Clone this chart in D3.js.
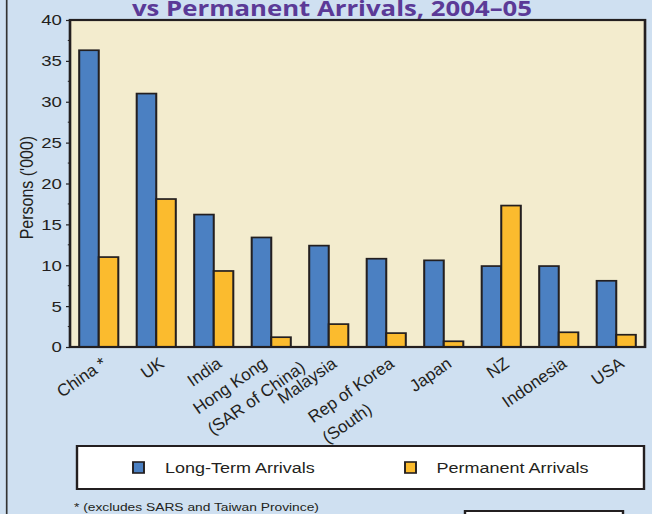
<!DOCTYPE html>
<html>
<head>
<meta charset="utf-8">
<script src="https://cdn.jsdelivr.net/npm/d3@7"></script>
<style>
  body { margin: 0; background: #cfe0f1; }
  svg { display: block; font-family: "Liberation Sans", Arial, sans-serif; }
</style>
</head>
<body>
<div id="chart"></div>
<script>
// Data (thousands of persons)
const categories = ["China *", "UK", "India", "Hong Kong\n(SAR of China)", "Malaysia",
                    "Rep of Korea\n(South)", "Japan", "NZ", "Indonesia", "USA"];
const longTerm  = [36.3, 31.0, 16.2, 13.4, 12.4, 10.8, 10.6, 9.9, 9.9, 8.1];
const permanent = [11.0, 18.1, 9.3, 1.2, 2.8, 1.7, 0.7, 17.3, 1.8, 1.5];
const seriesNames = ["Long-Term Arrivals", "Permanent Arrivals"];
const yTicks = [0, 5, 10, 15, 20, 25, 30, 35, 40];
const yMinorTicks = [2.5, 7.5, 12.5, 17.5, 22.5, 27.5, 32.5, 37.5];
const title = "vs Permanent Arrivals, 2004\u201305";
const yTitle = "Persons ('000)";
const footnote = "* (excludes SARS and Taiwan Province)";

// The reference looks stretched sideways, so most of it is drawn in a
// narrower space and scaled up on x.
const SX = 1.2;
const BG = "#cfe0f1";
const PLOT_BG = "#f3ecce";
const INK = "#231f20";
const colors = ["#4b80c2", "#fbbb2e"];

const plot = { left: 70 / SX, right: 645 / SX, top: 20, bottom: 347 };

const svg = d3.select("#chart")
    .append("svg")
    .attr("width", 652)
    .attr("height", 514);

svg.append("rect")
    .attr("width", 652)
    .attr("height", 514)
    .attr("fill", BG);

const root = svg.append("g")
    .attr("transform", "scale(" + SX + ",1)");

// left frame line of the page
root.append("line")
    .attr("x1", 6.7 / SX).attr("x2", 6.7 / SX)
    .attr("y1", 0).attr("y2", 514)
    .attr("stroke", "#333")
    .attr("stroke-width", 1.4);

// title (only its second line shows)
const titleText = root.append("text")
    .attr("x", 332 / SX)
    .attr("y", 15.5)
    .attr("text-anchor", "middle")
    .attr("font-family", "'Open Sans', 'Noto Sans', sans-serif")
    .attr("font-weight", 700)
    .attr("font-size", 17)
    .attr("fill", "#5b3a97")
    .text(title);
const tw = titleText.node().getComputedTextLength();
titleText.attr("font-size", 17 * (400 / SX) / tw);

root.append("rect")
    .attr("x", plot.left)
    .attr("y", plot.top)
    .attr("width", plot.right - plot.left)
    .attr("height", plot.bottom - plot.top)
    .attr("fill", PLOT_BG);

const x0 = d3.scaleBand()
    .domain(d3.range(categories.length))
    .range([plot.left, plot.right])
    .paddingInner(0.32)
    .paddingOuter(0.16);

const x1 = d3.scaleBand()
    .domain([0, 1])
    .range([0, x0.bandwidth()]);

const y = d3.scaleLinear()
    .domain([0, 40])
    .range([plot.bottom, plot.top]);

const rows = categories.map(function(c, i) {
    return { i: i, values: [longTerm[i], permanent[i]] };
});

const groups = root.selectAll(".grp")
    .data(rows)
    .enter()
    .append("g")
    .attr("class", "grp")
    .attr("transform", function(d) { return "translate(" + x0(d.i) + ",0)"; });

groups.selectAll("rect")
    .data(function(d) { return d.values; })
    .enter()
    .append("rect")
    .attr("x", function(v, k) { return x1(k); })
    .attr("y", function(v) { return y(v); })
    .attr("width", x1.bandwidth())
    .attr("height", function(v) { return y(0) - y(v); })
    .attr("fill", function(v, k) { return colors[k]; })
    .attr("stroke", INK)
    .attr("stroke-width", 1.7);

// plot frame
root.append("rect")
    .attr("x", plot.left)
    .attr("y", plot.top)
    .attr("width", plot.right - plot.left)
    .attr("height", plot.bottom - plot.top)
    .attr("fill", "none")
    .attr("stroke", INK)
    .attr("stroke-width", 2.2);

// y axis
const yAxis = root.append("g")
    .attr("transform", "translate(" + plot.left + ",0)")
    .call(d3.axisLeft(y).tickValues(yTicks).tickSize(4 / SX).tickPadding(3.4));
yAxis.select(".domain").remove();
yAxis.selectAll(".tick line").attr("stroke", INK).attr("stroke-width", 1.2);
yAxis.selectAll(".tick text")
    .attr("font-family", "'Liberation Sans', Arial, sans-serif")
    .attr("font-size", 15.5)
    .attr("fill", INK);

root.append("g")
    .selectAll("line")
    .data(yMinorTicks)
    .enter()
    .append("line")
    .attr("x1", plot.left - 2.2 / SX)
    .attr("x2", plot.left)
    .attr("y1", function(v) { return y(v); })
    .attr("y2", function(v) { return y(v); })
    .attr("stroke", INK)
    .attr("stroke-width", 1);

root.append("text")
    .attr("transform", "translate(" + (32.5 / SX) + "," + y(19.5) + ") rotate(-90)")
    .attr("text-anchor", "middle")
    .attr("font-size", 16)
    .attr("fill", INK)
    .text(yTitle);

// category labels: drawn unstretched, rotated 35 degrees.
// The first line ends near the bar group; further lines are left aligned
// below it, and a label whose lower line sticks out further to the right
// is pulled left by part of that overhang.
const ANGLE = 35;
const LH = 25;
const cosA = Math.cos(ANGLE * Math.PI / 180);
const sinA = Math.sin(ANGLE * Math.PI / 180);
const labelLayer = svg.append("g");
labelLayer.selectAll(".xlab")
    .data(categories)
    .enter()
    .append("g")
    .attr("class", "xlab")
    .each(function(c, i) {
        const g = d3.select(this);
        const lines = c.split("\n");
        const texts = lines.map(function(line, j) {
            return g.append("text")
                .attr("y", LH * j)
                .attr("font-size", 17)
                .attr("fill", INK)
                .text(line);
        });
        const lens = texts.map(function(t) { return t.node().getComputedTextLength(); });
        texts.forEach(function(t) { t.attr("x", -lens[0]); });
        const reach = d3.max(lens, function(L, j) { return L * cosA + j * LH * sinA; });
        const overhang = Math.max(0, reach - lens[0] * cosA);
        const cx = SX * (x0(i) + x0.bandwidth() / 2) + 9 - overhang * 0.32;
        g.attr("transform", "translate(" + cx + "," + (plot.bottom + 19) + ") rotate(" + (-ANGLE) + ")");
    });

// legend
const legend = root.append("g");
legend.append("rect")
    .attr("x", 77 / SX)
    .attr("y", 446)
    .attr("width", (644 - 77) / SX)
    .attr("height", 43)
    .attr("fill", "#fff")
    .attr("stroke", INK)
    .attr("stroke-width", 2);

const legendX = [133, 405];
const legendTextX = [165, 436.6];
seriesNames.forEach(function(name, k) {
    legend.append("rect")
        .attr("x", legendX[k] / SX)
        .attr("y", 462)
        .attr("width", 11 / SX)
        .attr("height", 11)
        .attr("fill", colors[k])
        .attr("stroke", INK)
        .attr("stroke-width", 1.6);
    legend.append("text")
        .attr("x", legendTextX[k] / SX)
        .attr("y", 473.3)
        .attr("font-size", 15)
        .attr("fill", INK)
        .text(name);
});

root.append("text")
    .attr("x", 74 / SX)
    .attr("y", 511.5)
    .attr("font-size", 11.5)
    .attr("fill", INK)
    .text(footnote);

// empty box at bottom right, cut off by the page edge
root.append("rect")
    .attr("x", 465 / SX)
    .attr("y", 511)
    .attr("width", (623 - 465) / SX)
    .attr("height", 30)
    .attr("fill", "#fff")
    .attr("stroke", INK)
    .attr("stroke-width", 2);
</script>
</body>
</html>
